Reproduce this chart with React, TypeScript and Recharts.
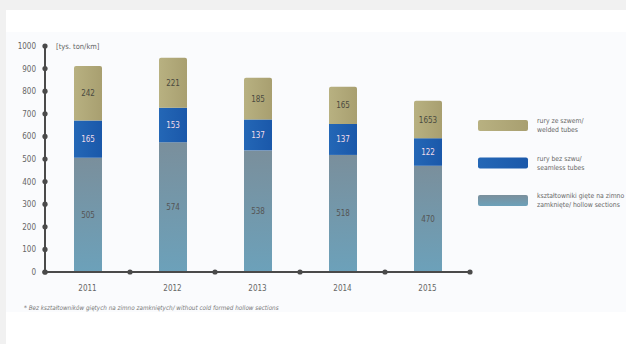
import React from "react";
import { BarChart, Bar, XAxis, YAxis, LabelList } from "recharts";

const years = ["2011", "2012", "2013", "2014", "2015"];
const hollowSections = [505, 574, 538, 518, 470];
const seamlessTubes = [165, 153, 137, 137, 122];
const weldedTubes = [242, 221, 185, 165, 165.3];
const weldedLabels = ["242", "221", "185", "165", "1653"];
const yTicks = [0, 100, 200, 300, 400, 500, 600, 700, 800, 900, 1000];
const unitLabel = "[tys. ton/km]";
const footnote = "* Bez kształtowników giętych na zimno zamkniętych/ without cold formed hollow sections";
const legendItems = [
  { key: "welded", lines: ["rury ze szwem/", "welded tubes"], fill: "url(#gWelded)" },
  { key: "seamless", lines: ["rury bez szwu/", "seamless tubes"], fill: "url(#gSeamless)" },
  { key: "hollow", lines: ["kształtowniki gięte na zimno", "zamknięte/ hollow sections"], fill: "url(#gHollow)" },
];

const data = years.map((y, i) => ({
  year: y,
  hollow: hollowSections[i],
  seamless: seamlessTubes[i],
  welded: weldedTubes[i],
  weldedLabel: weldedLabels[i],
}));

const W = 626;
const H = 344;
const XH = 30;
const M = { top: 46, right: 156, bottom: 72 - XH, left: 5 };
const YW = 40;
const PLOT_W = W - M.left - M.right - YW;
const BAND = PLOT_W / years.length;
const FONT = "'Liberation Sans Narrow', 'DejaVu Sans Condensed', 'Roboto', sans-serif";
const AXIS = "#4a4a4a";

const YTick = (props: any) => {
  const { x, y, payload } = props;
  return (
    <g>
      <circle cx={x} cy={y} r={2.6} fill={AXIS} />
      <text x={x - 9} y={y} dy={3} textAnchor="end" fontSize={8} fill="#666" fontFamily={FONT}>
        {payload.value}
      </text>
    </g>
  );
};

const XTick = (props: any) => {
  const { x, y, payload, index } = props;
  return (
    <g>
      {index === 0 && <circle cx={x - BAND / 2} cy={y} r={2.6} fill={AXIS} />}
      <circle cx={x + BAND / 2} cy={y} r={2.6} fill={AXIS} />
      <text x={x} y={y + 19} textAnchor="middle" fontSize={8} fill="#666" fontFamily={FONT}>
        {payload.value}
      </text>
    </g>
  );
};

const mkLabel = (color: string, key?: string) => (props: any) => {
  const { x, y, width, height, value, index } = props;
  const text = key ? data[index][key] : value;
  return (
    <text x={x + width / 2} y={y + height / 2} dy={3} textAnchor="middle" fontSize={8} fill={color} fontFamily={FONT}>
      {text}
    </text>
  );
};

export default function App() {
  return (
    <div style={{ position: "absolute", left: 0, top: 0, width: W, height: H, background: "#f1f1f1", overflow: "hidden", fontFamily: FONT }}>
      <div style={{ position: "absolute", left: 6, top: 10, right: 0, bottom: 0, background: "#ffffff" }} />
      <div style={{ position: "absolute", left: 6, top: 32, right: 0, height: 280, background: "#fafbfd" }} />
      <div style={{ position: "absolute", left: 0, top: 0 }}>
        <BarChart width={W} height={H} data={data} margin={M} barSize={28}>
          <defs>
            <linearGradient id="gWelded" x1="0" y1="0" x2="1" y2="0">
              <stop offset="0%" stopColor="#b8b181" />
              <stop offset="100%" stopColor="#a89f70" />
            </linearGradient>
            <linearGradient id="gSeamless" x1="0" y1="0" x2="1" y2="0">
              <stop offset="0%" stopColor="#2467b6" />
              <stop offset="100%" stopColor="#1a58aa" />
            </linearGradient>
            <linearGradient id="gHollow" x1="0" y1="0" x2="0" y2="1">
              <stop offset="0%" stopColor="#7a8f9c" />
              <stop offset="100%" stopColor="#6ca1ba" />
            </linearGradient>
          </defs>
          <YAxis
            width={YW}
            domain={[0, 1000]}
            ticks={yTicks}
            interval={0}
            axisLine={{ stroke: AXIS, strokeWidth: 2 }}
            tickLine={false}
            tickSize={0}
            tickMargin={0}
            tick={<YTick />}
          />
          <XAxis
            dataKey="year"
            height={XH}
            axisLine={{ stroke: AXIS, strokeWidth: 2 }}
            tickLine={false}
            tickSize={0}
            tickMargin={0}
            tick={<XTick />}
            interval={0}
          />
          <Bar dataKey="hollow" stackId="a" fill="url(#gHollow)" isAnimationActive={false}>
            <LabelList dataKey="hollow" content={mkLabel("#555")} />
          </Bar>
          <Bar dataKey="seamless" stackId="a" fill="url(#gSeamless)" isAnimationActive={false}>
            <LabelList dataKey="seamless" content={mkLabel("#f3dcea")} />
          </Bar>
          <Bar dataKey="welded" stackId="a" fill="url(#gWelded)" isAnimationActive={false} radius={[2, 2, 0, 0]}>
            <LabelList dataKey="welded" content={mkLabel("#4a4a40", "weldedLabel")} />
          </Bar>
          <text x={56} y={49} fontSize={7.5} fill="#666" fontFamily={FONT}>{unitLabel}</text>
          <text x={24} y={310} fontSize={6.3} fill="#777" fontStyle="italic" fontFamily={FONT}>{footnote}</text>
          {legendItems.map((it, i) => {
            const top = 120 + i * 37.5;
            return (
              <g key={it.key}>
                <rect x={478} y={top} width={50} height={11} rx={2} fill={it.fill} />
                <text x={537} y={top + 3} fontSize={6.8} fill="#666" fontFamily={FONT}>{it.lines[0]}</text>
                <text x={537} y={top + 12} fontSize={6.8} fill="#666" fontFamily={FONT}>{it.lines[1]}</text>
              </g>
            );
          })}
        </BarChart>
      </div>
    </div>
  );
}
